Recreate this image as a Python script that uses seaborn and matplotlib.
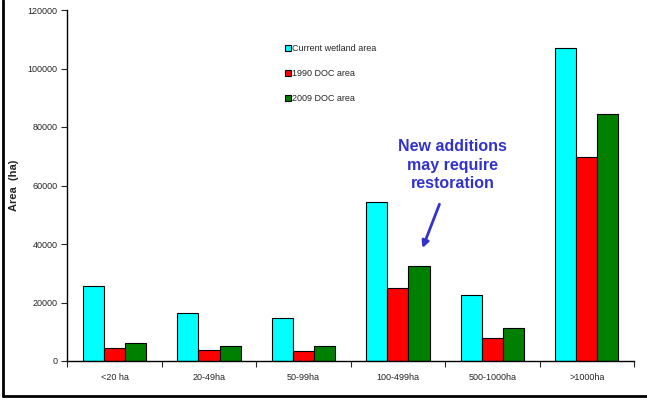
import seaborn as sns
import matplotlib.pyplot as plt
import matplotlib.lines as mlines
import numpy as np
import pandas as pd

categories = ["<20 ha", "20-49ha", "50-99ha", "100-499ha", "500-1000ha", ">1000ha"]
series_names = ["Current wetland area", "1990 DOC area", "2009 DOC area"]
current_area = [25600, 16300, 14600, 54300, 22500, 107100]
doc_1990 = [4300, 3700, 3400, 24900, 7900, 69800]
doc_2009 = [6300, 5100, 5100, 32400, 11200, 84600]
colors = ["#00FFFF", "#FF0000", "#008000"]

df = pd.DataFrame({
    "cat": categories * 3,
    "series": np.repeat(series_names, len(categories)),
    "area": current_area + doc_1990 + doc_2009,
})

sns.set_style("white")
plt.rcParams['font.family'] = ['Liberation Sans', 'DejaVu Sans']

fig = plt.figure(figsize=(6.47, 4.0), dpi=100)
ax = fig.add_axes([0.104, 0.0975, 0.876, 0.8775])

sns.barplot(data=df, x="cat", y="area", hue="series", order=categories,
            hue_order=series_names, palette=colors, width=0.67, gap=0,
            edgecolor="black", linewidth=0.8, saturation=1, ax=ax)

ax.set_ylim(0, 120000)
ax.set_xlim(-0.5, 5.5)
ax.set_yticks(range(0, 120001, 20000))
ax.tick_params(axis="y", labelsize=6.5, length=4, width=0.8, direction="out", left=True, pad=3)
ax.set_xticks(range(len(categories)))
ax.set_xticklabels(categories)
ax.set_xticks(np.arange(-0.5, 6.0, 1.0), minor=True)
ax.tick_params(axis="x", which="major", labelsize=6.5, length=0, pad=9)
ax.tick_params(axis="x", which="minor", length=4, width=0.8, direction="out", bottom=True)
for s in ["top", "right"]:
    ax.spines[s].set_visible(False)
for s in ["left", "bottom"]:
    ax.spines[s].set_color("black")
    ax.spines[s].set_linewidth(1)
ax.set_xlabel("")
ax.set_ylabel("Area  (ha)", fontsize=8, fontweight="bold")
ax.yaxis.set_label_coords(-0.085, 0.5)

leg = ax.legend(loc="upper left", bbox_to_anchor=(0.37, 0.925), frameon=False,
                fontsize=6.5, handlelength=0.6, handleheight=0.6, handletextpad=0.2,
                labelspacing=1.75)
for h in leg.legend_handles:
    h.set_edgecolor("black")
    h.set_linewidth(0.8)

ax.text(3.58, 67000, "New additions\nmay require\nrestoration", ha="center", va="center",
        fontsize=11.5, fontweight="bold", color="#3333CC", linespacing=1.3)
ax.annotate("", xy=(3.26, 38600), xytext=(3.44, 53600),
            arrowprops=dict(arrowstyle="-|>", color="#3333CC", lw=2, mutation_scale=10,
                            shrinkA=0, shrinkB=0))

# frame lines on left and bottom of the picture
fig.add_artist(mlines.Line2D([0.004, 0.004], [0.01, 1.0], color="black", lw=2, transform=fig.transFigure))
fig.add_artist(mlines.Line2D([0.004, 1.0], [0.01, 0.01], color="black", lw=2, transform=fig.transFigure))

plt.savefig("out.png", dpi=100)
